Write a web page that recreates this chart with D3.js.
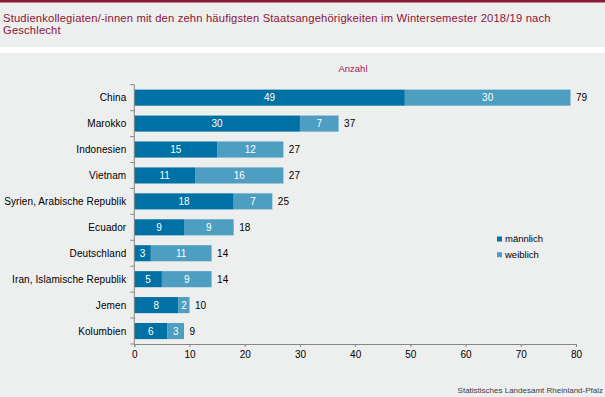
<!DOCTYPE html>
<html>
<head>
<meta charset="utf-8">
<script src="https://cdn.jsdelivr.net/npm/d3@7"></script>
<style>
  body { margin: 0; background: #fff; }
  svg { display: block; font-family: "Liberation Sans", Arial, sans-serif; }
</style>
</head>
<body>
<div id="chart"></div>
<script>
// data
const laender = ["China", "Marokko", "Indonesien", "Vietnam", "Syrien, Arabische Republik",
  "Ecuador", "Deutschland", "Iran, Islamische Republik", "Jemen", "Kolumbien"];
const maennlich = [49, 30, 15, 11, 18, 9, 3, 5, 8, 6];
const weiblich  = [30, 7, 12, 16, 7, 9, 11, 9, 2, 3];
const xTicks = [0, 10, 20, 30, 40, 50, 60, 70, 80];
const serien = ["männlich", "weiblich"];

const width = 605, height = 397;
const farben = { "männlich": "#0071a4", "weiblich": "#4d9ec1" };

const svg = d3.select("#chart").append("svg")
  .attr("width", width)
  .attr("height", height);

// backgrounds
svg.append("rect").attr("width", width).attr("height", height).attr("fill", "#edeeee");
svg.append("rect").attr("y", 47).attr("width", width).attr("height", 6).attr("fill", "#ffffff");
svg.append("rect").attr("width", width).attr("height", 2.5).attr("fill", "#8a1a3a");

// title
const titel = svg.append("text")
  .attr("fill", "#8a1538")
  .attr("font-size", 11.2)
  .attr("letter-spacing", 0.18);
titel.append("tspan").attr("x", 3).attr("y", 22)
  .text("Studienkollegiaten/-innen mit den zehn häufigsten Staatsangehörigkeiten im Wintersemester 2018/19 nach");
titel.append("tspan").attr("x", 3).attr("y", 34).text("Geschlecht");

svg.append("text")
  .attr("x", 353).attr("y", 72)
  .attr("text-anchor", "middle")
  .attr("font-size", 9.5)
  .attr("fill", "#a0195a")
  .text("Anzahl");

const x = d3.scaleLinear().domain([0, 80]).range([134.3, 576]);
const y = d3.scaleBand().domain(laender).range([84.7, 344]).paddingInner(0.38).paddingOuter(0.19);

const rows = laender.map((l, i) => ({ land: l, "männlich": maennlich[i], "weiblich": weiblich[i] }));
const stack = d3.stack().keys(serien)(rows);

const layer = svg.append("g").selectAll("g")
  .data(stack)
  .join("g")
  .attr("fill", d => farben[d.key]);

layer.selectAll("rect")
  .data(d => d)
  .join("rect")
  .attr("x", d => x(d[0]))
  .attr("width", d => x(d[1]) - x(d[0]))
  .attr("y", d => y(d.data.land))
  .attr("height", y.bandwidth());

// segment values
layer.selectAll("text")
  .data(d => d)
  .join("text")
  .attr("x", d => (x(d[0]) + x(d[1])) / 2)
  .attr("y", d => y(d.data.land) + y.bandwidth() / 2)
  .attr("dy", "0.35em")
  .attr("text-anchor", "middle")
  .attr("font-size", 10)
  .attr("fill", "#ffffff")
  .text(d => d[1] - d[0]);

// totals
svg.append("g").selectAll("text")
  .data(rows)
  .join("text")
  .attr("x", d => x(d["männlich"] + d["weiblich"]) + 5.5)
  .attr("y", d => y(d.land) + y.bandwidth() / 2)
  .attr("dy", "0.35em")
  .attr("font-size", 10)
  .attr("fill", "#000")
  .text(d => d["männlich"] + d["weiblich"]);

// y axis
const yAxis = svg.append("g")
  .attr("transform", `translate(${x(0)},0)`);
yAxis.append("line")
  .attr("y1", 84.7).attr("y2", 344)
  .attr("stroke", "#868686");
const yGrenzen = d3.range(laender.length + 1).map(i => 84.7 + i * (344 - 84.7) / laender.length);
yAxis.selectAll(".tk")
  .data(yGrenzen)
  .join("line")
  .attr("x1", -4).attr("x2", 0)
  .attr("y1", d => d).attr("y2", d => d)
  .attr("stroke", "#868686");
yAxis.selectAll("text")
  .data(laender)
  .join("text")
  .attr("x", -8)
  .attr("y", d => y(d) + y.bandwidth() / 2)
  .attr("dy", "0.35em")
  .attr("text-anchor", "end")
  .attr("font-size", 10)
  .attr("letter-spacing", 0.1)
  .attr("fill", "#000")
  .text(d => d);

// x axis
const xAxis = svg.append("g")
  .attr("transform", "translate(0,344)")
  .call(d3.axisBottom(x).tickValues(xTicks).tickSize(3).tickPadding(4))
  .attr("font-size", 10)
  .attr("font-family", null);
xAxis.select(".domain").attr("stroke", "#868686");
xAxis.selectAll(".tick line").attr("stroke", "#868686");
xAxis.selectAll(".tick text").attr("fill", "#000");

// legend
const legende = svg.append("g").selectAll("g")
  .data(serien)
  .join("g")
  .attr("transform", (d, i) => `translate(497,${239 + i * 15.7})`);
legende.append("rect")
  .attr("x", 0).attr("y", -2.5)
  .attr("width", 5).attr("height", 5)
  .attr("fill", d => farben[d]);
legende.append("text")
  .attr("x", 8)
  .attr("dy", "0.35em")
  .attr("font-size", 9.5)
  .attr("fill", "#000")
  .text(d => d);

// source
svg.append("text")
  .attr("x", 603).attr("y", 393)
  .attr("text-anchor", "end")
  .attr("font-size", 8)
  .attr("fill", "#404040")
  .text("Statistisches Landesamt Rheinland-Pfalz");
</script>
</body>
</html>
